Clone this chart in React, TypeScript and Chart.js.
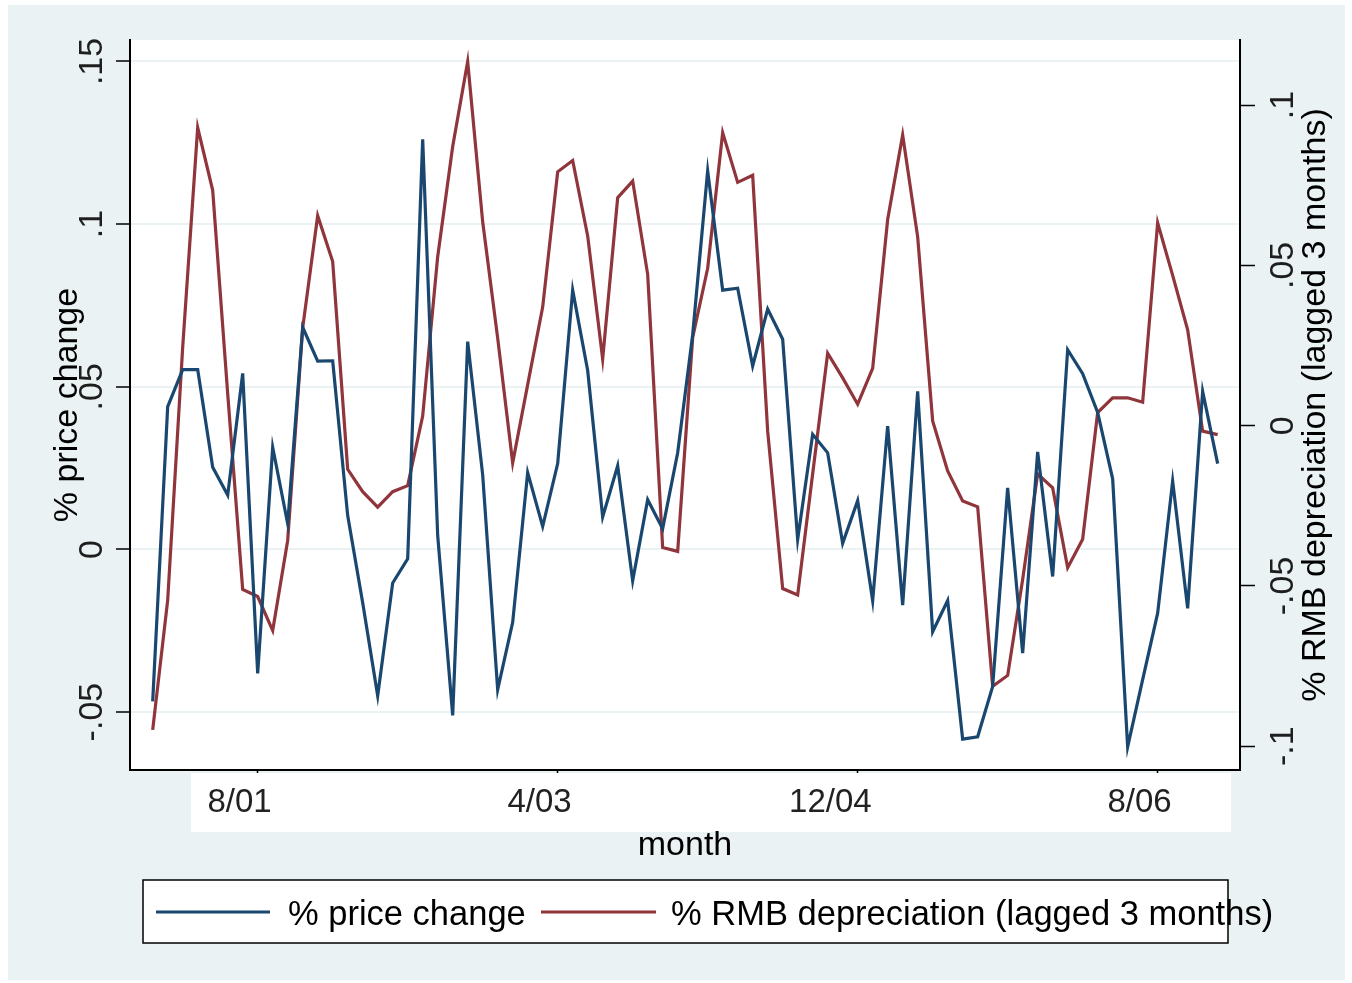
import React, { useEffect, useRef } from "react";
import { Chart, registerables } from "chart.js";

Chart.register(...registerables);

// Monthly categories 1/01 .. 12/06
const MONTHS: string[] = (() => {
  const out: string[] = [];
  for (let y = 2001; y <= 2006; y++) {
    for (let m = 1; m <= 12; m++) out.push(`${m}/${String(y).slice(2)}`);
  }
  return out;
})();

// % price change (left axis)
const PRICE_CHANGE = [
  -0.0467, 0.0439, 0.0553, 0.0553, 0.0253, 0.0167, 0.0541, -0.0381, 0.0314, 0.0079, 0.0683, 0.0579,
  0.058, 0.0104, -0.0164, -0.045, -0.0103, -0.0029, 0.1261, 0.0043, -0.051, 0.0639, 0.0229, -0.0431,
  -0.0224, 0.0236, 0.0071, 0.0264, 0.0797, 0.055, 0.01, 0.0257, -0.0096, 0.0153, 0.0064, 0.0297,
  0.066, 0.1164, 0.0797, 0.0803, 0.0564, 0.0739, 0.0646, 0.0031, 0.0354, 0.0297, 0.0019, 0.015,
  -0.0157, 0.0379, -0.0171, 0.0486, -0.0253, -0.0157, -0.0583, -0.0576, -0.0421, 0.0189, -0.0319, 0.03,
  -0.0083, 0.0614, 0.054, 0.0421, 0.0217, -0.0607, -0.04, -0.0196, 0.021, -0.0181, 0.0486, 0.0264,
];

// % RMB depreciation, lagged 3 months (right axis)
const RMB_DEPRECIATION = [
  -0.0949, -0.0544, 0.0245, 0.093, 0.0734, 0.01, -0.0511, -0.0533, -0.0639, -0.0358, 0.0305, 0.0655,
  0.0512, -0.0136, -0.0206, -0.0254, -0.0206, -0.0187, 0.003, 0.0527, 0.0871, 0.1136, 0.0636, 0.0273,
  -0.0116, 0.0128, 0.037, 0.0792, 0.0827, 0.0592, 0.0208, 0.0711, 0.0763, 0.0472, -0.038, -0.0392,
  0.0275, 0.0491, 0.0914, 0.0759, 0.0781, -0.0017, -0.0508, -0.0528, -0.015, 0.0226, 0.0149, 0.0067,
  0.0179, 0.0643, 0.0907, 0.0589, 0.0015, -0.0141, -0.0235, -0.0253, -0.0813, -0.0779, -0.048, -0.0151,
  -0.0194, -0.0443, -0.0354, 0.0041, 0.0087, 0.0087, 0.0073, 0.0633, 0.0469, 0.0299, -0.0017, -0.0028,
];

const X_TICK_LABELS = ["8/01", "4/03", "12/04", "8/06"];
const LEFT_TICKS = [-0.05, 0, 0.05, 0.1, 0.15];
const LEFT_TICK_LABELS = ["-.05", "0", ".05", ".1", ".15"];
const RIGHT_TICKS = [-0.1, -0.05, 0, 0.05, 0.1];
const RIGHT_TICK_LABELS = ["-.1", "-.05", "0", ".05", ".1"];

const SERIES_LABELS = ["% price change", "% RMB depreciation (lagged 3 months)"];
const X_TITLE = "month";

const FONT = "'Liberation Sans', Arial, Helvetica, sans-serif";
const BG = "#eaf2f3";
const BLUE = "#1a476f";
const RED = "#90353b";

const W = 1352;
const H = 983;

const decor = {
  id: "decor",
  beforeDraw(chart: any) {
    const { ctx, chartArea: a } = chart;
    ctx.save();
    ctx.fillStyle = BG;
    ctx.fillRect(8, 5, 1337, 975);
    ctx.fillStyle = "#ffffff";
    ctx.fillRect(a.left, a.top, a.right - a.left, a.bottom - a.top);
    // white band behind the month tick labels
    ctx.fillRect(191, a.bottom + 3, 1040, 59);
    ctx.restore();
  },
  afterDraw(chart: any) {
    const { ctx, chartArea: a } = chart;
    const yL = chart.scales.y;
    const yR = chart.scales.y1;
    ctx.save();
    ctx.font = `34px ${FONT}`;
    ctx.fillStyle = "#1e1e1e";
    ctx.textAlign = "center";
    ctx.textBaseline = "alphabetic";
    const rot = (x: number, y: number, t: string) => {
      ctx.save();
      ctx.translate(x, y);
      ctx.rotate(-Math.PI / 2);
      ctx.fillText(t, 0, 0);
      ctx.restore();
    };
    LEFT_TICKS.forEach((v, i) => rot(102, yL.getPixelForValue(v), LEFT_TICK_LABELS[i]));
    RIGHT_TICKS.forEach((v, i) => rot(1293, yR.getPixelForValue(v), RIGHT_TICK_LABELS[i]));
    ctx.fillStyle = "#000";
    const cy = (a.top + a.bottom) / 2;
    rot(77, cy, SERIES_LABELS[0]);
    rot(1325, cy, SERIES_LABELS[1]);
    ctx.fillText(X_TITLE, (a.left + a.right) / 2, 855);

    // legend
    ctx.fillStyle = "#fff";
    ctx.fillRect(143, 880, 1085, 63);
    ctx.strokeStyle = "#000";
    ctx.lineWidth = 1.5;
    ctx.strokeRect(143, 880, 1085, 63);
    const ds = chart.data.datasets;
    const items = [
      { x0: 156, x1: 270, tx: 288 },
      { x0: 541, x1: 656, tx: 671 },
    ];
    ctx.font = `34.5px ${FONT}`;
    items.forEach((it, i) => {
      ctx.strokeStyle = ds[i].borderColor;
      ctx.lineWidth = 3;
      ctx.beginPath();
      ctx.moveTo(it.x0, 912);
      ctx.lineTo(it.x1, 912);
      ctx.stroke();
      ctx.fillStyle = "#000";
      ctx.textAlign = "left";
      ctx.fillText(ds[i].label, it.tx, 925);
    });
    ctx.restore();
  },
};

export default function App() {
  const ref = useRef<HTMLCanvasElement | null>(null);
  useEffect(() => {
    if (!ref.current) return;
    const chart = new Chart(ref.current, {
      type: "line",
      data: {
        datasets: [
          {
            label: SERIES_LABELS[0],
            data: PRICE_CHANGE.map((v, i) => ({ x: i, y: v })),
            borderColor: BLUE,
            borderWidth: 3.2,
            pointRadius: 0,
            tension: 0,
            fill: false,
            yAxisID: "y",
          },
          {
            label: SERIES_LABELS[1],
            data: RMB_DEPRECIATION.map((v, i) => ({ x: i, y: v })),
            borderColor: RED,
            borderWidth: 3.2,
            pointRadius: 0,
            tension: 0,
            fill: false,
            yAxisID: "y1",
          },
        ],
      },
      options: {
        responsive: false,
        animation: false,
        devicePixelRatio: 1,
        layout: { padding: { top: 40, left: 0, right: 0, bottom: 0 } },
        plugins: { legend: { display: false }, tooltip: { enabled: false } },
        scales: {
          x: {
            type: "linear",
            position: "bottom",
            min: -1.513,
            max: 72.49,
            afterBuildTicks: (s: any) => {
              s.ticks = X_TICK_LABELS.map((l) => ({ value: MONTHS.indexOf(l) }));
            },
            afterFit: (s: any) => {
              s.height = 213;
            },
            ticks: {
              autoSkip: false,
              maxRotation: 0,
              minRotation: 0,
              align: "end",
              labelOffset: 14,
              padding: 10,
              color: "#222",
              font: { family: FONT, size: 33 },
              callback: (v: any) => MONTHS[Math.round(Number(v))],
            },
            grid: { drawOnChartArea: false, tickLength: 3, tickColor: "#000", tickWidth: 1.5 },
            border: { color: "#000", width: 2 },
          },
          y: {
            type: "linear",
            position: "left",
            min: -0.0678,
            max: 0.1566,
            afterBuildTicks: (s: any) => {
              s.ticks = LEFT_TICKS.map((v) => ({ value: v }));
            },
            afterFit: (s: any) => {
              s.width = 130;
            },
            ticks: { display: false },
            grid: { color: BG, lineWidth: 2, tickColor: "#000", tickLength: 14, tickWidth: 1.5 },
            border: { color: "#000", width: 2 },
          },
          y1: {
            type: "linear",
            position: "right",
            min: -0.1074,
            max: 0.1203,
            afterBuildTicks: (s: any) => {
              s.ticks = RIGHT_TICKS.map((v) => ({ value: v }));
            },
            afterFit: (s: any) => {
              s.width = 112;
            },
            ticks: { display: false },
            grid: { drawOnChartArea: false, tickColor: "#000", tickLength: 15, tickWidth: 1.5 },
            border: { color: "#000", width: 2 },
          },
        },
      },
      plugins: [decor],
    } as any);
    return () => chart.destroy();
  }, []);

  return (
    <div style={{ position: "fixed", left: 0, top: 0, width: W, height: H, background: "#fff" }}>
      <canvas ref={ref} width={W} height={H} style={{ display: "block" }} />
    </div>
  );
}
